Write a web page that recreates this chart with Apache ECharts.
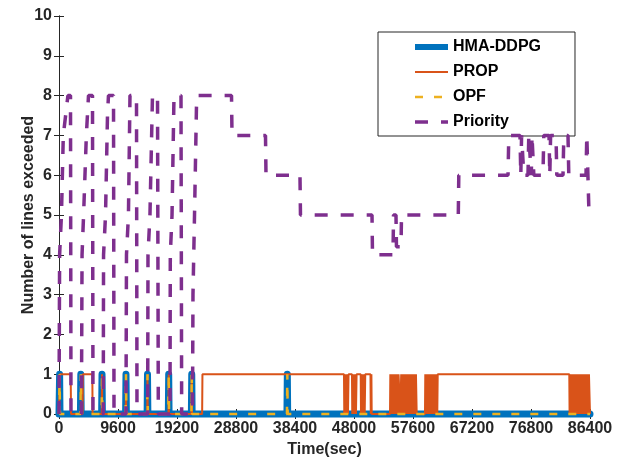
<!DOCTYPE html>
<html>
<head>
<meta charset="utf-8">
<script src="https://cdn.jsdelivr.net/npm/echarts@6/dist/echarts.min.js"></script>
<style>
  html, body { margin: 0; padding: 0; background: #fff; }
  #chart { width: 623px; height: 463px; }
</style>
</head>
<body>
<div id="chart"></div>
<script>
// Number of overloaded lines over one day (time in seconds)

// HMA-DDPG: short single-line events
const ddpgT = [0, 100, 160, 3490, 3550, 3610, 6940, 7000, 7060, 10840, 10900, 10960,
  14340, 14400, 14460, 17790, 17850, 17910, 21540, 21600, 21660, 37090, 37150, 37210, 86400];
const ddpgV = [0, 1, 0, 0, 1, 0, 0, 1, 0, 0, 1, 0,
  0, 1, 0, 0, 1, 0, 0, 1, 0, 0, 1, 0, 0];

// OPF: same short events
const opfT = [0, 100, 160, 3490, 3550, 3610, 6940, 7000, 7060, 10840, 10900, 10960,
  14340, 14400, 14460, 17790, 17850, 17910, 21540, 21600, 21660, 37090, 37150, 37210, 86400];
const opfV = [0, 1, 0, 0, 1, 0, 0, 1, 0, 0, 1, 0,
  0, 1, 0, 0, 1, 0, 0, 1, 0, 0, 1, 0, 0];

// PROP
const propT = [0, 150, 1900, 1960, 3830, 3880, 5420, 5470,
  6960, 7000, 7040, 10860, 10900, 10940, 14360, 14400, 14440, 17810, 17850, 17890, 21560, 21600, 21640,
  23290, 23340,
  46370, 46420, 46570, 46720, 46870, 47020, 47110,
  47670, 47720, 47870, 48020, 48170, 48320, 48420,
  49090, 49140, 49290, 49440, 49590, 49740, 49830,
  50680, 50730, 50830, 50880,
  53860, 53910, 54060, 54210, 54360, 54510, 54660, 54810, 54960, 55110, 55200, 55250,
  55480, 55530, 55680, 55830, 55980, 56130, 56280, 56430, 56580, 56730, 56880, 57030, 57180, 57330, 57480, 57630, 57780, 57930, 58080, 58200,
  59550, 59600, 59750, 59900, 60050, 60200, 60350, 60500, 60650, 60800, 60950, 61100, 61250, 61400, 61550, 61620,
  83030, 83080, 83230, 83380, 83530, 83680, 83830, 83980, 84130, 84280, 84430, 84580, 84730, 84880, 85030, 85180, 85330, 85480, 85630, 85780, 85930, 86080, 86230, 86400];
const propV = [0, 1, 1, 0, 0, 1, 1, 0,
  0, 1, 0, 0, 1, 0, 0, 1, 0, 0, 1, 0, 0, 1, 0,
  0, 1,
  1, 0, 1, 0, 1, 0, 1,
  1, 0, 1, 0, 1, 0, 1,
  1, 0, 1, 0, 1, 0, 1,
  1, 0, 1, 0,
  0, 1, 0, 1, 0, 1, 0, 1, 0, 1, 0, 1,
  1, 0, 1, 0, 1, 0, 1, 0, 1, 0, 1, 0, 1, 0, 1, 0, 1, 0, 1, 0,
  0, 1, 0, 1, 0, 1, 0, 1, 0, 1, 0, 1, 0, 1, 0, 1,
  1, 0, 1, 0, 1, 0, 1, 0, 1, 0, 1, 0, 1, 0, 1, 0, 1, 0, 1, 0, 1, 0, 1, 0];

// Priority
const prioT = [0, 100, 400, 700, 1150, 1450, 1870, 1950,
  3650, 3750, 4000, 4450, 4800, 5450, 5530,
  7200, 7250, 7570, 7890, 8050, 8870, 8950,
  10900, 10980, 11300, 11550, 12610, 12690,
  14430, 14480, 14800, 15210, 16030, 16160,
  18060, 18110, 18390, 18710, 19850, 19960,
  21720, 21800, 22050, 22400, 28070, 28150,
  33600, 33680, 39210, 39290, 50930, 51010,
  54350, 54430, 54830, 54910, 55650, 55730, 64970, 65050,
  73060, 73190, 75010, 75140, 75270, 75500, 75630, 76310, 76440, 76720, 76850, 76960, 77130, 77260,
  78750, 78880, 79730, 79860, 79990, 80870, 81000, 82010, 82140, 82820, 82950,
  85750, 85880, 86120, 86240, 86400];
const prioV = [0, 4, 5, 7, 7.6, 8, 8, 0,
  0, 4, 5, 7, 8, 8, 0,
  0, 4, 5, 7.5, 8, 8, 0,
  0, 4, 5, 8, 8, 0,
  0, 4, 5, 8, 8, 0,
  0, 4, 5, 8, 8, 0,
  0, 3, 5, 8, 8, 7,
  7, 6, 6, 5, 5, 4,
  4, 5, 5, 4.2, 4.2, 5, 5, 6,
  6, 7, 7, 6, 7, 7, 6, 6, 7, 7, 6, 7, 7, 6,
  6, 7, 7, 6, 7, 7, 6, 6, 7, 7, 6,
  6, 7, 7, 5, 5];

const seriesNames = ['HMA-DDPG', 'PROP', 'OPF', 'Priority'];
const xTickStep = 9600;

const zip = (t, v) => t.map((x, i) => [x, v[i]]);

const font = 'Liberation Sans, Arial, Helvetica, sans-serif';
const ink = '#262626';

const chart = echarts.init(document.getElementById('chart'), null, { renderer: 'canvas' });

const boxAxis = {
  axisLine: { show: true, lineStyle: { color: ink, width: 1 } },
  axisTick: { show: true, inside: true, length: 5, lineStyle: { color: ink, width: 1 } },
  splitLine: { show: false }
};

const labelText = { color: ink, fontSize: 16, fontWeight: 'bold', fontFamily: font };

chart.setOption({
  animation: false,
  backgroundColor: '#fff',
  grid: { left: 59, top: 16, width: 531, height: 399, containLabel: false },
  xAxis: [
    Object.assign({
      type: 'value', min: 0, max: 86400, interval: xTickStep, position: 'bottom',
      axisLabel: Object.assign({ margin: 7, formatter: v => String(v) }, labelText),
      name: 'Time(sec)', nameLocation: 'middle', nameGap: 28, nameMoveOverlap: false,
      nameTextStyle: labelText
    }, boxAxis),
    Object.assign({
      type: 'value', min: 0, max: 86400, interval: xTickStep, position: 'top',
      axisLabel: { show: false }
    }, boxAxis)
  ],
  yAxis: [
    Object.assign({
      type: 'value', min: 0, max: 10, interval: 1, position: 'left',
      axisLabel: Object.assign({ margin: 7 }, labelText),
      name: 'Number of lines exceeded', nameLocation: 'middle', nameGap: 22, nameRotate: 90,
      nameMoveOverlap: false,
      nameTextStyle: labelText
    }, boxAxis),
    Object.assign({
      type: 'value', min: 0, max: 10, interval: 1, position: 'right',
      axisLabel: { show: false }
    }, boxAxis)
  ],
  legend: {
    orient: 'vertical',
    left: 378, top: 32,
    padding: [7, 34, 6, 34],
    itemWidth: 33, itemHeight: 14, itemGap: 9,
    borderColor: ink, borderWidth: 1, backgroundColor: '#fff',
    itemStyle: { opacity: 0 },
    textStyle: { color: '#000', fontSize: 16, fontWeight: 'bold', fontFamily: font },
    data: [
      { name: seriesNames[0], lineStyle: { width: 6, cap: 'butt' } },
      { name: seriesNames[1], lineStyle: { width: 2 } },
      { name: seriesNames[2], lineStyle: { width: 2.5 } },
      { name: seriesNames[3], lineStyle: { width: 3.5 } }
    ]
  },
  series: [
    {
      name: seriesNames[0], type: 'line', data: zip(ddpgT, ddpgV),
      symbol: 'none', clip: false, z: 2,
      lineStyle: { color: '#0072BD', width: 7, cap: 'round', join: 'round' },
      itemStyle: { color: '#0072BD' }
    },
    {
      name: seriesNames[1], type: 'line', data: zip(propT, propV),
      symbol: 'none', clip: false, z: 3,
      lineStyle: { color: '#D95319', width: 2 },
      itemStyle: { color: '#D95319' }
    },
    {
      name: seriesNames[2], type: 'line', data: zip(opfT, opfV),
      symbol: 'none', clip: false, z: 4,
      lineStyle: { color: '#EDB120', width: 2.5, type: [8, 11] },
      itemStyle: { color: '#EDB120' }
    },
    {
      name: seriesNames[3], type: 'line', data: zip(prioT, prioV),
      symbol: 'none', clip: false, z: 5,
      lineStyle: { color: '#7E2F8E', width: 3.5, type: [13, 13] },
      itemStyle: { color: '#7E2F8E' }
    }
  ]
});
</script>
</body>
</html>
